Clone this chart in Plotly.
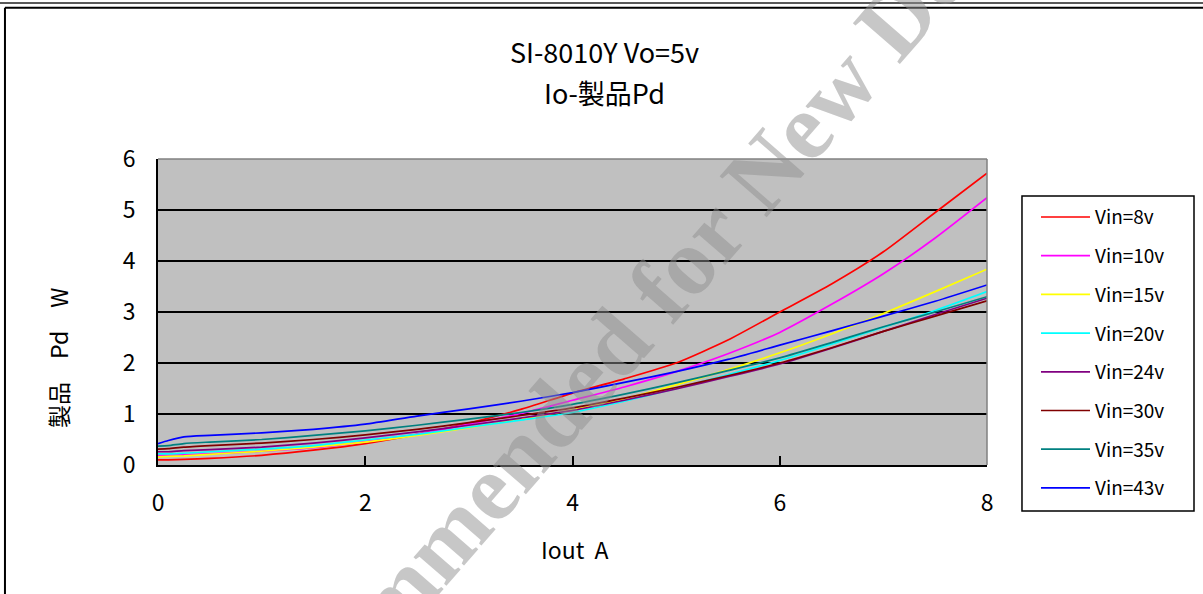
import plotly.graph_objects as go

# ---- data ----
iout = [0, 0.1, 0.25, 0.5, 1, 1.5, 2, 2.5, 3, 3.5, 4, 4.5, 5, 5.5, 6, 6.5, 7, 7.5, 8]

vin8  = [0.10, 0.10, 0.11, 0.13, 0.19, 0.29, 0.42, 0.60, 0.82, 1.09, 1.41, 1.69, 2.00, 2.45, 3.00, 3.55, 4.18, 4.95, 5.72]
vin10 = [0.19, 0.19, 0.20, 0.22, 0.27, 0.34, 0.46, 0.60, 0.80, 1.01, 1.27, 1.53, 1.83, 2.18, 2.60, 3.15, 3.75, 4.45, 5.24]
vin15 = [0.16, 0.17, 0.18, 0.21, 0.27, 0.35, 0.45, 0.58, 0.73, 0.90, 1.08, 1.30, 1.57, 1.87, 2.20, 2.57, 2.97, 3.40, 3.84]
vin20 = [0.22, 0.22, 0.23, 0.26, 0.31, 0.38, 0.49, 0.60, 0.74, 0.88, 1.03, 1.25, 1.50, 1.77, 2.05, 2.37, 2.70, 3.03, 3.40]
vin24 = [0.26, 0.26, 0.28, 0.30, 0.35, 0.43, 0.53, 0.65, 0.78, 0.92, 1.07, 1.27, 1.49, 1.73, 1.98, 2.29, 2.62, 2.95, 3.27]
vin30 = [0.31, 0.32, 0.35, 0.38, 0.43, 0.50, 0.59, 0.70, 0.83, 0.97, 1.12, 1.31, 1.52, 1.75, 2.00, 2.30, 2.62, 2.92, 3.22]
vin35 = [0.37, 0.38, 0.42, 0.45, 0.50, 0.58, 0.67, 0.78, 0.90, 1.03, 1.19, 1.39, 1.61, 1.85, 2.10, 2.40, 2.71, 3.00, 3.30]
vin43 = [0.42, 0.48, 0.55, 0.58, 0.63, 0.70, 0.80, 0.96, 1.10, 1.25, 1.42, 1.62, 1.83, 2.07, 2.35, 2.63, 2.92, 3.21, 3.53]

series_names = ["Vin=8v", "Vin=10v", "Vin=15v", "Vin=20v", "Vin=24v", "Vin=30v", "Vin=35v", "Vin=43v"]
series_values = [vin8, vin10, vin15, vin20, vin24, vin30, vin35, vin43]
series_colors = ["#FF0000", "#FF00FF", "#FFFF00", "#00FFFF", "#800080", "#800000", "#008080", "#0000FF"]

x_ticks = [0, 2, 4, 6, 8]
y_ticks = [0, 1, 2, 3, 4, 5, 6]

title_line1 = "SI-8010Y Vo=5v"
title_line2 = "Io-製品Pd"
x_title = "Iout\u00a0\u00a0A"
y_title = "製品\u3000Pd\u3000W"
watermark = "Not Recommended for New Design"

FONT = "Noto Sans CJK JP"

fig = go.Figure()
for i, (name, vals, col) in enumerate(zip(series_names, series_values, series_colors)):
    fig.add_trace(go.Scatter(
        x=iout, y=vals, name=name, mode="lines",
        line=dict(color=col, width=1.7, shape="spline", smoothing=0.6),
        legendgroup=f"g{i}",
    ))

fig.update_layout(
    width=1203, height=594,
    margin=dict(l=158, r=216, t=159, b=129, autoexpand=False),
    paper_bgcolor="white",
    plot_bgcolor="#C0C0C0",
    font=dict(family=FONT, color="black", size=20),
    showlegend=True,
    legend=dict(
        x=1.0591, y=0.872, xanchor="left", yanchor="top",
        bgcolor="rgba(0,0,0,0)", borderwidth=0,
        font=dict(family=FONT, size=19, color="black"),
        tracegroupgap=11,
        itemwidth=49,
        maxheight=420,
    ),
    xaxis=dict(
        range=[0, 8], tickvals=x_ticks, ticks="inside", ticklen=9, tickwidth=1.5,
        tickcolor="black", showgrid=False, showline=True, linecolor="black",
        linewidth=2, zeroline=False, tickfont=dict(family=FONT, size=23),
        ticklabelstandoff=16,
    ),
    yaxis=dict(
        range=[0, 6], tickvals=y_ticks, ticks="inside", ticklen=5, tickwidth=1.5,
        tickcolor="black", showgrid=True, gridcolor="black", gridwidth=1.5,
        showline=True, linecolor="black", linewidth=2, zeroline=False,
        tickfont=dict(family=FONT, size=23), ticklabelstandoff=16,
    ),
)

# legend box
fig.add_shape(type="rect", xref="paper", yref="paper", x0=1.0422, x1=1.2497, y0=-0.150, y1=0.879,
              fillcolor="white", line=dict(color="black", width=1.5), layer="below")
# plot frame (top/right in gray)
fig.add_shape(type="line", xref="paper", yref="paper", x0=0, x1=1, y0=1, y1=1,
              line=dict(color="#808080", width=1.5))
fig.add_shape(type="line", xref="paper", yref="paper", x0=1, x1=1, y0=0, y1=1,
              line=dict(color="#808080", width=1.5))
# page frame lines
fig.add_shape(type="line", xref="paper", yref="paper", x0=-0.2, x1=1.3, y0=1.51, y1=1.51,
              line=dict(color="#222222", width=1.5))
fig.add_shape(type="line", xref="paper", yref="paper", x0=-0.1846, x1=1.3, y0=1.494, y1=1.494,
              line=dict(color="black", width=2))
fig.add_shape(type="line", xref="paper", yref="paper", x0=-0.1846, x1=-0.1846, y0=1.494, y1=-0.45,
              line=dict(color="black", width=2))

# titles
fig.add_annotation(text=title_line1, xref="paper", yref="paper", x=0.539, y=1.35,
                   showarrow=False, xanchor="center", yanchor="middle",
                   font=dict(family=FONT, size=27))
fig.add_annotation(text=title_line2, xref="paper", yref="paper", x=0.539, y=1.216,
                   showarrow=False, xanchor="center", yanchor="middle",
                   font=dict(family=FONT, size=27))
fig.add_annotation(text=x_title, xref="paper", yref="paper", x=0.503, y=-0.275,
                   showarrow=False, xanchor="center", yanchor="middle",
                   font=dict(family=FONT, size=23))
fig.add_annotation(text=y_title, xref="paper", yref="paper", x=-0.1206, y=0.35,
                   showarrow=False, xanchor="center", yanchor="middle", textangle=-90,
                   font=dict(family=FONT, size=23))

# watermark
fig.add_annotation(text=watermark, xref="paper", yref="paper", x=0.521, y=0.303,
                   showarrow=False, xanchor="center", yanchor="middle", textangle=-49,
                   font=dict(family="Liberation Serif", size=95, weight="bold",
                             color="rgba(143,143,143,0.5)"))

fig.write_html("out.html", config={"displayModeBar": False},
               post_script="document.body.style.margin='0';document.body.style.overflow='hidden';")
